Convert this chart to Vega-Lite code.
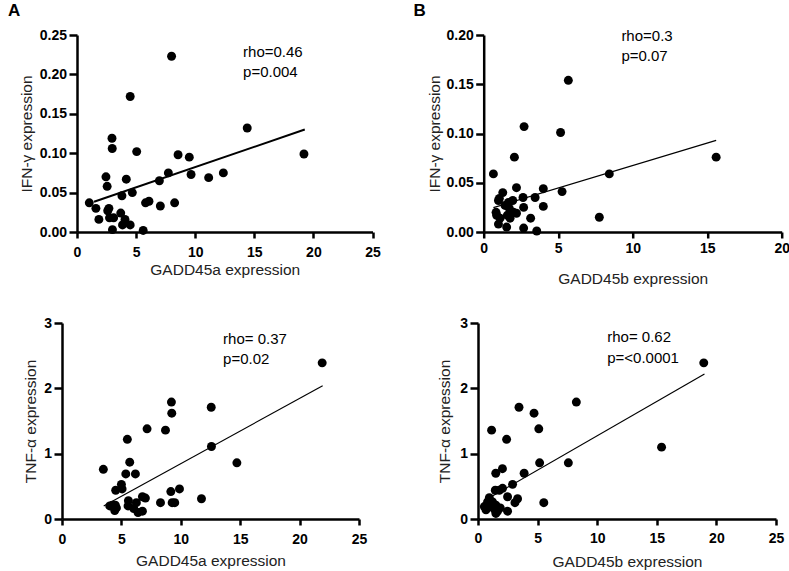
{
  "$schema": "https://vega.github.io/schema/vega-lite/v6.json",
  "padding": {"left": 8, "top": 2, "right": 0, "bottom": 0},
  "spacing": 28,
  "config": {
    "view": {"stroke": null},
    "font": "Liberation Sans",
    "axis": {
      "grid": false, "domainColor": "black", "domainWidth": 2.5,
      "tickColor": "black", "tickWidth": 2.5,
      "labelFont": "Liberation Sans", "labelFontWeight": "bold", "labelFontSize": 14, "labelColor": "black",
      "titleFont": "Liberation Sans", "titleFontWeight": "normal", "titleFontSize": 15.5, "titleColor": "#222",
      "labelFlush": false, "labelOverlap": false
    },
    "axisX": {"tickSize": 6},
    "axisY": {"tickSize": 8, "labelPadding": 2.5},
    "title": {"fontSize": 17, "fontWeight": "bold", "anchor": "start", "frame": "group", "color": "black", "font": "Liberation Sans"}
  },
  "datasets": {
    "a_pts": [
      {"x": 1.04, "y": 0.037}, {"x": 1.6, "y": 0.030}, {"x": 1.85, "y": 0.016}, {"x": 2.45, "y": 0.070},
      {"x": 2.55, "y": 0.058}, {"x": 2.6, "y": 0.027}, {"x": 2.7, "y": 0.030}, {"x": 2.75, "y": 0.018},
      {"x": 2.96, "y": 0.119}, {"x": 2.98, "y": 0.106}, {"x": 3.0, "y": 0.003}, {"x": 3.1, "y": 0.018},
      {"x": 3.7, "y": 0.024}, {"x": 3.8, "y": 0.046}, {"x": 3.85, "y": 0.009}, {"x": 4.06, "y": 0.016},
      {"x": 4.17, "y": 0.067}, {"x": 4.5, "y": 0.172}, {"x": 4.5, "y": 0.009}, {"x": 4.68, "y": 0.050},
      {"x": 5.05, "y": 0.102}, {"x": 5.6, "y": 0.002}, {"x": 5.8, "y": 0.037}, {"x": 6.09, "y": 0.039},
      {"x": 6.97, "y": 0.065}, {"x": 7.05, "y": 0.033}, {"x": 7.73, "y": 0.075}, {"x": 8.26, "y": 0.037},
      {"x": 8.55, "y": 0.098}, {"x": 8.0, "y": 0.223}, {"x": 9.5, "y": 0.095}, {"x": 9.65, "y": 0.073},
      {"x": 11.14, "y": 0.069}, {"x": 12.38, "y": 0.075}, {"x": 14.4, "y": 0.132}, {"x": 19.2, "y": 0.099}
    ],
    "a_fit": [{"x": 1.44, "y": 0.0384}, {"x": 19.27, "y": 0.130}],
    "a_txt": [{"x": 14.05, "y": 0.229, "label": "rho=0.46"}, {"x": 14.05, "y": 0.2035, "label": "p=0.004"}],
    "b_pts": [
      {"x": 0.65, "y": 0.059}, {"x": 1.28, "y": 0.040}, {"x": 1.05, "y": 0.034}, {"x": 0.99, "y": 0.032},
      {"x": 2.2, "y": 0.045}, {"x": 1.95, "y": 0.032}, {"x": 1.66, "y": 0.030}, {"x": 1.43, "y": 0.027},
      {"x": 1.72, "y": 0.024}, {"x": 2.0, "y": 0.020}, {"x": 2.2, "y": 0.019}, {"x": 0.83, "y": 0.020},
      {"x": 0.87, "y": 0.017}, {"x": 1.1, "y": 0.014}, {"x": 0.99, "y": 0.008}, {"x": 1.59, "y": 0.017},
      {"x": 1.77, "y": 0.014}, {"x": 1.54, "y": 0.005}, {"x": 2.64, "y": 0.035}, {"x": 2.68, "y": 0.025},
      {"x": 3.45, "y": 0.035}, {"x": 4.0, "y": 0.044}, {"x": 4.0, "y": 0.026}, {"x": 3.15, "y": 0.014},
      {"x": 2.68, "y": 0.004}, {"x": 3.56, "y": 0.001}, {"x": 5.26, "y": 0.041}, {"x": 2.06, "y": 0.076},
      {"x": 2.71, "y": 0.107}, {"x": 5.16, "y": 0.101}, {"x": 5.68, "y": 0.154}, {"x": 7.76, "y": 0.015},
      {"x": 8.43, "y": 0.059}, {"x": 15.6, "y": 0.076}
    ],
    "b_fit": [{"x": 0.65, "y": 0.0248}, {"x": 15.6, "y": 0.093}],
    "b_txt": [{"x": 9.24, "y": 0.199, "label": "rho=0.3"}, {"x": 9.24, "y": 0.1787, "label": "p=0.07"}],
    "c_pts": [
      {"x": 3.48, "y": 0.76}, {"x": 4.02, "y": 0.20}, {"x": 4.24, "y": 0.21}, {"x": 4.44, "y": 0.13},
      {"x": 4.49, "y": 0.21}, {"x": 4.52, "y": 0.44}, {"x": 4.58, "y": 0.17}, {"x": 5.0, "y": 0.53},
      {"x": 5.06, "y": 0.46}, {"x": 5.37, "y": 0.69}, {"x": 5.5, "y": 1.22}, {"x": 5.56, "y": 0.20},
      {"x": 5.59, "y": 0.28}, {"x": 5.7, "y": 0.87}, {"x": 6.04, "y": 0.16}, {"x": 6.18, "y": 0.69},
      {"x": 6.26, "y": 0.25}, {"x": 6.4, "y": 0.10}, {"x": 6.77, "y": 0.12}, {"x": 6.77, "y": 0.34},
      {"x": 7.02, "y": 0.32}, {"x": 7.16, "y": 1.38}, {"x": 8.29, "y": 0.25}, {"x": 8.71, "y": 1.36},
      {"x": 9.16, "y": 0.42}, {"x": 9.21, "y": 1.79}, {"x": 9.24, "y": 1.62}, {"x": 9.27, "y": 0.25},
      {"x": 9.49, "y": 0.25}, {"x": 9.89, "y": 0.46}, {"x": 11.74, "y": 0.31}, {"x": 12.56, "y": 1.71},
      {"x": 12.58, "y": 1.11}, {"x": 14.72, "y": 0.86}, {"x": 21.9, "y": 2.39}
    ],
    "c_fit": [{"x": 3.51, "y": 0.20}, {"x": 21.94, "y": 2.04}],
    "c_txt": [{"x": 13.56, "y": 2.75, "label": "rho= 0.37"}, {"x": 13.56, "y": 2.45, "label": "p=0.02"}],
    "d_pts": [
      {"x": 1.14, "y": 1.36}, {"x": 2.4, "y": 1.22}, {"x": 5.1, "y": 1.38}, {"x": 5.17, "y": 0.86},
      {"x": 2.05, "y": 0.77}, {"x": 1.49, "y": 0.70}, {"x": 3.87, "y": 0.70}, {"x": 2.9, "y": 0.53},
      {"x": 2.06, "y": 0.47}, {"x": 1.79, "y": 0.44}, {"x": 1.45, "y": 0.44}, {"x": 2.48, "y": 0.34},
      {"x": 3.32, "y": 0.31}, {"x": 3.1, "y": 0.25}, {"x": 5.52, "y": 0.25}, {"x": 0.95, "y": 0.325},
      {"x": 0.8, "y": 0.26}, {"x": 0.53, "y": 0.19}, {"x": 0.67, "y": 0.14}, {"x": 1.22, "y": 0.26},
      {"x": 1.5, "y": 0.21}, {"x": 1.09, "y": 0.19}, {"x": 1.37, "y": 0.15}, {"x": 1.64, "y": 0.12},
      {"x": 1.87, "y": 0.17}, {"x": 2.48, "y": 0.12}, {"x": 1.5, "y": 0.085}, {"x": 3.44, "y": 1.71},
      {"x": 4.7, "y": 1.62}, {"x": 8.25, "y": 1.79}, {"x": 7.58, "y": 0.86}, {"x": 15.4, "y": 1.10},
      {"x": 18.94, "y": 2.39}
    ],
    "d_fit": [{"x": 0.53, "y": 0.28}, {"x": 19.0, "y": 2.22}],
    "d_txt": [{"x": 10.84, "y": 2.78, "label": "rho= 0.62"}, {"x": 10.84, "y": 2.47, "label": "p=<0.0001"}]
  },
  "vconcat": [
    {
      "spacing": 31.7,
      "hconcat": [
        {
          "width": 295.5, "height": 197,
          "title": {"text": "A", "dx": -69, "offset": 8},
          "encoding": {
            "x": {"field": "x", "type": "quantitative", "scale": {"domain": [0, 25], "nice": false, "zero": false},
                  "axis": {"values": [0, 5, 10, 15, 20, 25], "title": "GADD45a expression", "labelPadding": 7, "titlePadding": 3.65}},
            "y": {"field": "y", "type": "quantitative", "scale": {"domain": [0, 0.25], "nice": false},
                  "axis": {"values": [0, 0.05, 0.1, 0.15, 0.2, 0.25], "format": ".2f", "title": "IFN-γ expression", "titlePadding": 4.5}}
          },
          "layer": [
            {"data": {"name": "a_pts"}, "mark": {"type": "circle", "size": 80, "color": "black", "opacity": 1}},
            {"data": {"name": "a_fit"}, "mark": {"type": "line", "color": "black", "strokeWidth": 2}},
            {"data": {"name": "a_txt"}, "mark": {"type": "text", "align": "left", "baseline": "middle", "fontSize": 15, "color": "black", "font": "Liberation Sans"},
             "encoding": {"text": {"field": "label"}}}
          ]
        },
        {
          "width": 298, "height": 197,
          "title": {"text": "B", "dx": -70.3, "offset": 8},
          "encoding": {
            "x": {"field": "x", "type": "quantitative", "scale": {"domain": [0, 20], "nice": false, "zero": false},
                  "axis": {"values": [0, 5, 10, 15, 20], "title": "GADD45b expression", "labelPadding": 3.3, "titlePadding": 16.25}},
            "y": {"field": "y", "type": "quantitative", "scale": {"domain": [0, 0.2], "nice": false},
                  "axis": {"values": [0, 0.05, 0.1, 0.15, 0.2], "format": ".2f", "title": "IFN-γ expression", "titlePadding": 3.8}}
          },
          "layer": [
            {"data": {"name": "b_pts"}, "mark": {"type": "circle", "size": 80, "color": "black", "opacity": 1}},
            {"data": {"name": "b_fit"}, "mark": {"type": "line", "color": "black", "strokeWidth": 1.2}},
            {"data": {"name": "b_txt"}, "mark": {"type": "text", "align": "left", "baseline": "middle", "fontSize": 15, "color": "black", "font": "Liberation Sans"},
             "encoding": {"text": {"field": "label"}}}
          ]
        }
      ]
    },
    {
      "spacing": 63,
      "hconcat": [
        {
          "width": 282, "height": 196,
          "encoding": {
            "x": {"field": "x", "type": "quantitative", "scale": {"domain": [0, 25], "nice": false, "zero": false, "range": [-15, 282]},
                  "axis": {"values": [0, 5, 10, 15, 20, 25], "title": "GADD45a expression", "labelPadding": 7, "titlePadding": 7.25}},
            "y": {"field": "y", "type": "quantitative", "scale": {"domain": [0, 3], "nice": false},
                  "axis": {"values": [0, 1, 2, 3], "format": "d", "title": "TNF-α  expression", "titlePadding": 5.25, "offset": 15}}
          },
          "layer": [
            {"data": {"name": "c_pts"}, "mark": {"type": "circle", "size": 80, "color": "black", "opacity": 1}},
            {"data": {"name": "c_fit"}, "mark": {"type": "line", "color": "black", "strokeWidth": 1.2}},
            {"data": {"name": "c_txt"}, "mark": {"type": "text", "align": "left", "baseline": "middle", "fontSize": 15, "color": "black", "font": "Liberation Sans"},
             "encoding": {"text": {"field": "label"}}}
          ]
        },
        {
          "width": 298, "height": 196,
          "encoding": {
            "x": {"field": "x", "type": "quantitative", "scale": {"domain": [0, 25], "nice": false, "zero": false},
                  "axis": {"values": [0, 5, 10, 15, 20, 25], "title": "GADD45b expression", "labelPadding": 6.4, "titlePadding": 9.55}},
            "y": {"field": "y", "type": "quantitative", "scale": {"domain": [0, 3], "nice": false},
                  "axis": {"values": [0, 1, 2, 3], "format": "d", "title": "TNF-α  expression", "titlePadding": 7.6}}
          },
          "layer": [
            {"data": {"name": "d_pts"}, "mark": {"type": "circle", "size": 80, "color": "black", "opacity": 1}},
            {"data": {"name": "d_fit"}, "mark": {"type": "line", "color": "black", "strokeWidth": 1.2}},
            {"data": {"name": "d_txt"}, "mark": {"type": "text", "align": "left", "baseline": "middle", "fontSize": 15, "color": "black", "font": "Liberation Sans"},
             "encoding": {"text": {"field": "label"}}}
          ]
        }
      ]
    }
  ]
}
